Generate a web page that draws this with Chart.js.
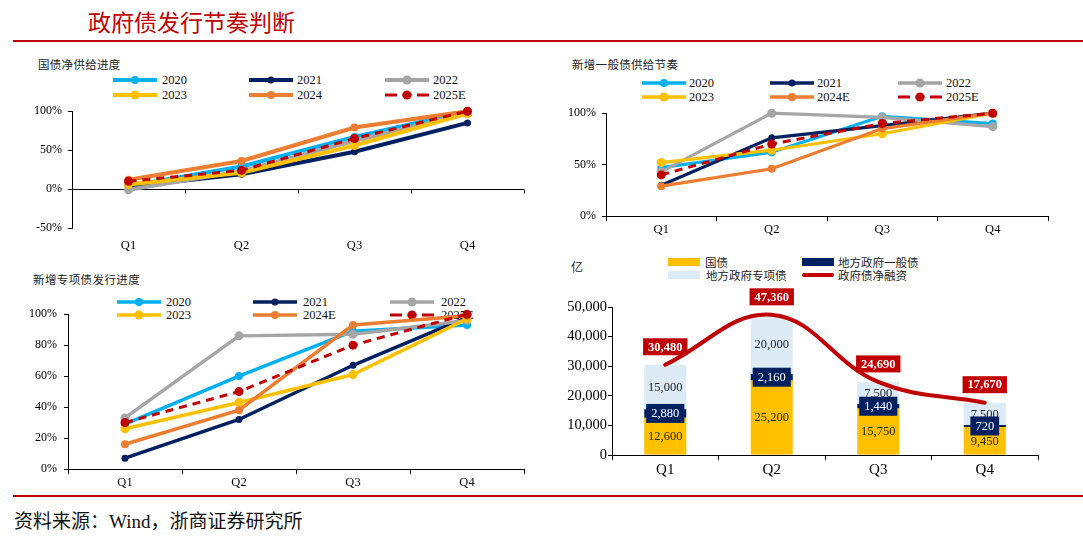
<!DOCTYPE html>
<html><head><meta charset="utf-8">
<script src="https://cdn.jsdelivr.net/npm/chart.js@4.4.1/dist/chart.umd.min.js"></script>
<style>
html,body{margin:0;padding:0;background:#fff;}
#root{position:relative;width:1083px;height:544px;overflow:hidden;font-family:"Liberation Serif","Noto Sans CJK SC",serif;color:#000;}
.abs{position:absolute;white-space:nowrap;}
.cjk{font-family:"Noto Sans CJK SC",sans-serif;}
canvas{position:absolute;}
</style></head><body><div id="root">
<div class="abs cjk" style="left:88px;top:8px;font-size:23px;line-height:26px;color:#C00000;">政府债发行节奏判断</div>
<div class="abs" style="left:13px;top:40px;width:1070px;height:2px;background:#C00000"></div>
<div class="abs cjk" style="left:38px;top:57px;font-size:11.5px;line-height:15px;letter-spacing:0.3px;color:#222">国债净供给进度</div>
<div class="abs cjk" style="left:572px;top:57px;font-size:11.5px;line-height:15px;letter-spacing:0.3px;color:#222">新增一般债供给节奏</div>
<div class="abs cjk" style="left:33px;top:272px;font-size:11.5px;line-height:15px;letter-spacing:0.4px;color:#222">新增专项债发行进度</div>
<div class="abs cjk" style="left:571px;top:259px;font-size:12px;line-height:15px;color:#222">亿</div>
<div id="legends"></div>
<canvas id="c1" width="520" height="155" style="left:14px;top:98px"></canvas>
<canvas id="c2" width="510" height="145" style="left:550px;top:100px"></canvas>
<canvas id="c3" width="520" height="192" style="left:14px;top:300px"></canvas>
<canvas id="c4" width="510" height="205" style="left:550px;top:280px"></canvas>
<div class="abs" style="left:13px;top:495px;width:1070px;height:2px;background:#C00000"></div>
<div class="abs" style="left:14px;top:511px;font-size:19px;line-height:22px;color:#111">资料来源：Wind，浙商证券研究所</div>
</div>
<script>
// ---------- DATA ----------
const quarters = ['Q1','Q2','Q3','Q4'];
const seriesNames1 = ['2020','2021','2022','2023','2024','2025E'];
const seriesNames23 = ['2020','2021','2022','2023','2024E','2025E'];
const yTicks1 = [-50, 0, 50, 100];
const yTicks2 = [0, 50, 100];
const yTicks3 = [0, 20, 40, 60, 80, 100];
const yTicks4 = [0, 10000, 20000, 30000, 40000, 50000];

// 国债净供给进度 (%)
const tsy2020  = [4, 29, 67, 100];
const tsy2021  = [3, 19, 48, 85];
const tsy2022  = [-1, 23, 62, 97];
const tsy2023  = [6, 21, 56, 97];
const tsy2024  = [12, 36, 79, 100];
const tsy2025E = [10, 24, 65, 100];

// 新增一般债供给节奏 (%)
const gen2020  = [47, 62, 97, 90];
const gen2021  = [30, 76, 88, 100];
const gen2022  = [43, 100, 96, 87];
const gen2023  = [52, 64, 80, 100];
const gen2024E = [29, 46, 85, 100];
const gen2025E = [40, 70, 90, 100];

// 新增专项债发行进度 (%)
const spc2020  = [29, 60, 89, 93];
const spc2021  = [7, 32, 67, 98];
const spc2022  = [33, 86, 87, 96];
const spc2023  = [26, 43, 61, 97];
const spc2024E = [16, 38, 93, 99];
const spc2025E = [30, 50, 80, 100];

// 政府债净融资 (亿)
const barNames = ['国债','地方政府一般债','地方政府专项债','政府债净融资'];
const bondNational     = [12600, 25200, 15750, 9450];
const bondLocalGeneral = [2880, 2160, 1440, 720];
const bondLocalSpecial = [15000, 20000, 7500, 7500];
const netFinancing     = [30480, 47360, 24690, 17670];

// ---------- STYLE ----------
const colors = ['#00B0F0','#002060','#A5A5A5','#FFC000','#ED7D31','#C00000'];
const radii = [4, 3.5, 4.5, 4.5, 4, 4.5];
const SERIF = '"Liberation Serif", "Times New Roman", serif';

function fmt(v){ return String(v).replace(/\B(?=(\d{3})+(?!\d))/g, ','); }

// ---------- HTML legends ----------
const legRoot = document.getElementById('legends');
function addLegend(names, lineX, textX, rowsY, lw){
  names.forEach((n,i)=>{
    const col=i%3, row=Math.floor(i/3);
    const x=lineX[col], y=rowsY[row], c=colors[i], dashed = n.indexOf('2025')===0;
    const r = radii[i];
    const dash = dashed ? 'stroke-dasharray="12,5.5,9,5.5,12"' : '';
    const svg = document.createElementNS('http://www.w3.org/2000/svg','svg');
    svg.setAttribute('width','46'); svg.setAttribute('height','14');
    svg.style.cssText = `position:absolute;left:${x-1}px;top:${y-7}px`;
    svg.innerHTML = `<line x1="1" y1="7" x2="45" y2="7" stroke="${c}" stroke-width="${dashed?3:lw}" ${dash}/><circle cx="23" cy="7" r="${r}" fill="${c}"/>`;
    legRoot.appendChild(svg);
    const t = document.createElement('div');
    t.className='abs'; t.textContent=n;
    t.style.cssText=`left:${textX[col]}px;top:${y-8}px;font-size:12.5px;line-height:16px;font-family:${SERIF};color:#111`;
    legRoot.appendChild(t);
  });
}
addLegend(seriesNames1, [113,249,385], [162,297,433], [80,95], 4);
addLegend(seriesNames23, [642,770,898], [689,817,946], [83,97], 3.5);
addLegend(seriesNames23, [117,253,390], [166,303,441], [302,315], 3.5);

// panel 4 legend
(function(){
  const items = [
    {x:668, tx:705, y:262, kind:'rect', c:'#FFC000'},
    {x:802, tx:838, y:262, kind:'rect', c:'#002060'},
    {x:668, tx:706, y:275, kind:'rect', c:'#DDEBF7'},
    {x:802, tx:838, y:275, kind:'line', c:'#C00000'}
  ];
  items.forEach((it,i)=>{
    const d=document.createElement('div'); d.className='abs';
    if(it.kind==='rect') d.style.cssText=`left:${it.x}px;top:${it.y-4}px;width:32px;height:8px;background:${it.c}`;
    else d.style.cssText=`left:${it.x}px;top:${it.y-2}px;width:32px;height:4px;background:${it.c};border-radius:2px`;
    legRoot.appendChild(d);
    const t=document.createElement('div'); t.className='abs cjk'; t.textContent=barNames[i];
    t.style.cssText=`left:${it.tx}px;top:${it.y-8}px;font-size:11.5px;line-height:16px;color:#222`;
    legRoot.appendChild(t);
  });
})();

// ---------- CHARTS ----------
Chart.defaults.font.family = SERIF;
Chart.defaults.color = '#000';

function lineDS(label, data, i, lw){
  const dashed = label.indexOf('2025')===0;
  return {label, data, borderColor:colors[i], backgroundColor:colors[i],
    borderWidth: dashed ? 3 : lw, pointRadius: radii[i], pointHoverRadius: radii[i],
    pointBackgroundColor:colors[i], pointBorderColor:colors[i], pointBorderWidth:0,
    borderDash: dashed ? [8,6] : [], tension:0, order:10-i, clip:false};
}

const zeroAxis = {
  id:'zeroAxis',
  beforeDatasetsDraw(chart, args, opts){
    if(!opts.enabled) return;
    const {ctx, chartArea:a, scales:{x,y}} = chart;
    const y0 = Math.round(y.getPixelForValue(0))+0.5;
    ctx.save(); ctx.strokeStyle='#000'; ctx.lineWidth=1;
    ctx.beginPath(); ctx.moveTo(a.left,y0); ctx.lineTo(a.right,y0);
    for(let i=1;i<=quarters.length;i++){
      const xx=Math.round(x.getPixelForValue(i-0.5))+0.5;
      ctx.moveTo(xx,y0); ctx.lineTo(xx,y0+4);
    }
    ctx.stroke(); ctx.restore();
  }
};

function lineChart(id, names, arrays, lw, yMin, yMax, step, yW, xH, pad, xPad, xFont, yFont, yPad, zero){
  return new Chart(document.getElementById(id), {
    type:'line',
    data:{labels:quarters, datasets: arrays.map((a,i)=>lineDS(names[i], a, i, lw))},
    options:{
      responsive:false, animation:false,
      layout:{padding:pad},
      plugins:{legend:{display:false}, tooltip:{enabled:false}, zeroAxis:{enabled:zero}},
      scales:{
        x:{type:'category', offset:true,
           grid:{display:!zero, drawOnChartArea:false, drawTicks:true, tickLength:5, color:'#000', offset:true},
           border:{display:!zero, color:'#000', width:1},
           ticks:{font:{size:xFont, lineHeight:1.2}, color:'#000', padding:xPad, maxRotation:0},
           afterFit(s){ s.height = xH; }},
        y:{min:yMin, max:yMax,
           ticks:{stepSize:step, font:{size:yFont}, color:'#000', padding:yPad, callback:v=>v+'%'},
           grid:{display:true, drawOnChartArea:false, drawTicks:true, tickLength:4, color:'#000'},
           border:{display:true, color:'#000', width:1},
           afterFit(s){ s.width = yW; }}
      }
    },
    plugins:[zeroAxis]
  });
}

lineChart('c1', seriesNames1, [tsy2020,tsy2021,tsy2022,tsy2023,tsy2024,tsy2025E], 4,
  yTicks1[0], yTicks1[yTicks1.length-1], 50, 58, 25, {top:7,right:10,bottom:0,left:0}, 5, 12.5, 12, 6, true);
lineChart('c2', seriesNames23, [gen2020,gen2021,gen2022,gen2023,gen2024E,gen2025E], 3.2,
  yTicks2[0], yTicks2[yTicks2.length-1], 50, 56, 29, {top:12,right:12,bottom:0,left:0}, 1, 12.5, 12, 6, false);
lineChart('c3', seriesNames23, [spc2020,spc2021,spc2022,spc2023,spc2024E,spc2025E], 3.5,
  yTicks3[0], yTicks3[yTicks3.length-1], 20, 54, 23, {top:13,right:10,bottom:0,left:0}, 1, 12.5, 12, 7, false);

const barLabels = {
  id:'barLabels',
  afterDraw(chart){
    const ctx=chart.ctx;
    ctx.save(); ctx.textAlign='center'; ctx.textBaseline='middle';
    ctx.font = '12.5px ' + SERIF;
    [0,2].forEach(di=>{
      chart.getDatasetMeta(di).data.forEach((el,i)=>{
        ctx.fillStyle='#262626';
        ctx.fillText(fmt(chart.data.datasets[di].data[i]), el.x, (el.y+el.base)/2+0.5);
      });
    });
    chart.getDatasetMeta(1).data.forEach((el,i)=>{
      const s=fmt(chart.data.datasets[1].data[i]);
      const w=ctx.measureText(s).width+10, h=19, cy=(el.y+el.base)/2;
      ctx.fillStyle='#002060'; ctx.fillRect(el.x-w/2, cy-h/2, w, h);
      ctx.fillStyle='#fff'; ctx.fillText(s, el.x, cy+0.5);
    });
    ctx.font = 'bold 12.5px ' + SERIF;
    chart.getDatasetMeta(3).data.forEach((el,i)=>{
      const s=fmt(chart.data.datasets[3].data[i]);
      const w=ctx.measureText(s).width+10, h=17, cy=el.y-18;
      ctx.fillStyle='#C00000'; ctx.fillRect(el.x-w/2, cy-h/2, w, h);
      ctx.fillStyle='#fff'; ctx.fillText(s, el.x, cy+0.5);
    });
    ctx.restore();
  }
};

new Chart(document.getElementById('c4'), {
  type:'bar',
  data:{labels:quarters, datasets:[
    {type:'bar', label:barNames[0], data:bondNational, backgroundColor:'#FFC000', stack:'s', order:1, barPercentage:0.395, categoryPercentage:1},
    {type:'bar', label:barNames[1], data:bondLocalGeneral, backgroundColor:'#002060', stack:'s', order:2, barPercentage:0.395, categoryPercentage:1},
    {type:'bar', label:barNames[2], data:bondLocalSpecial, backgroundColor:'#DDEBF7', stack:'s', order:3, barPercentage:0.395, categoryPercentage:1},
    {type:'line', label:barNames[3], data:netFinancing, borderColor:'#C00000', backgroundColor:'#C00000', borderWidth:4, pointRadius:0, pointHoverRadius:0, tension:0.4, stack:'net', order:0, clip:false, borderCapStyle:'round'}
  ]},
  options:{
    responsive:false, animation:false,
    layout:{padding:{top:27,right:22,bottom:0,left:0}},
    plugins:{legend:{display:false}, tooltip:{enabled:false}},
    scales:{
      x:{stacked:true, offset:true,
         grid:{display:true, drawOnChartArea:false, drawTicks:true, tickLength:5, color:'#000', offset:true},
         border:{display:true, color:'#000', width:1},
         ticks:{font:{size:15, lineHeight:1.2}, color:'#000', padding:1, maxRotation:0},
         afterFit(s){ s.height = 30; }},
      y:{stacked:true, min:yTicks4[0], max:yTicks4[yTicks4.length-1],
         ticks:{stepSize:10000, font:{size:14.5}, color:'#000', padding:1, callback:v=>fmt(v)},
         grid:{display:true, drawOnChartArea:false, drawTicks:true, tickLength:4, color:'#000'},
         border:{display:true, color:'#000', width:1},
         afterFit(s){ s.width = 62; }}
    }
  },
  plugins:[barLabels]
});
</script>
</body></html>
